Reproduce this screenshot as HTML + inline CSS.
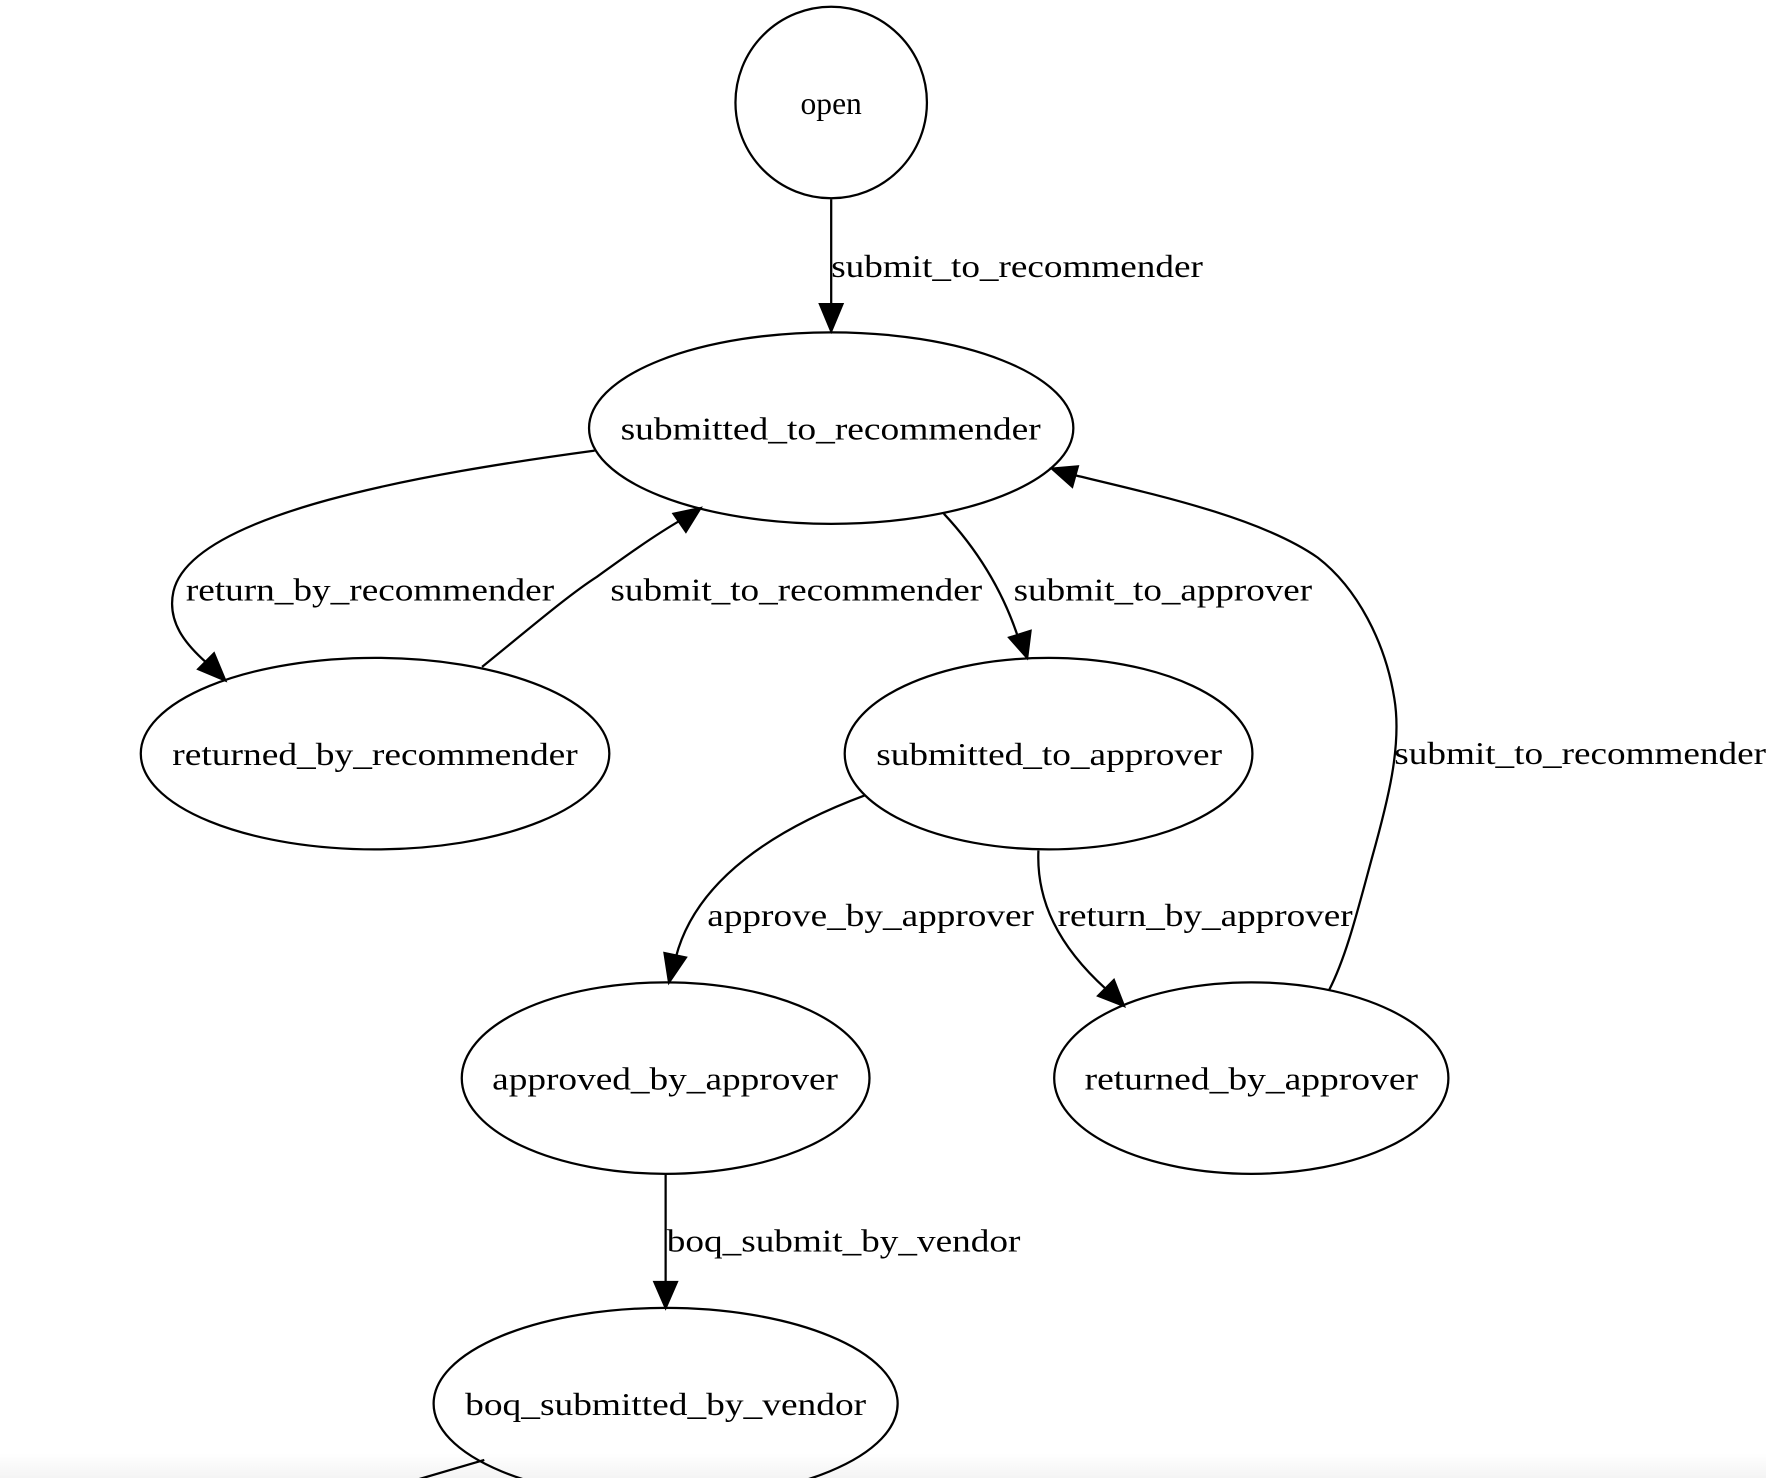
<!DOCTYPE html>
<html><head><meta charset="utf-8"><style>
html,body{margin:0;padding:0;background:#fff;width:1766px;height:1478px;overflow:hidden}
svg{display:block}
text{font-family:"Liberation Serif",serif;font-size:28px;fill:#000}
</style></head><body>
<svg width="1766" height="1478" viewBox="0 0 1568 1312" preserveAspectRatio="none" xmlns="http://www.w3.org/2000/svg">
<defs>
<linearGradient id="g" x1="0" y1="0" x2="0" y2="1"><stop offset="0" stop-color="#fff"/><stop offset="1" stop-color="#f4f4f4"/></linearGradient>
</defs>
<rect x="0" y="1290" width="1568" height="22" fill="url(#g)"/>
<g fill="none" stroke="#000" stroke-width="2">
<circle cx="738" cy="91" r="85"/>
<ellipse cx="738" cy="380" rx="215" ry="85"/>
<ellipse cx="333" cy="669" rx="208" ry="85"/>
<ellipse cx="931" cy="669" rx="181" ry="85"/>
<ellipse cx="591" cy="957" rx="181" ry="85"/>
<ellipse cx="1111" cy="957" rx="175" ry="85"/>
<ellipse cx="591" cy="1246" rx="206" ry="85"/>
<path d="M738,177 L738,272"/>
<path d="M528,400 C380,420 170,455 154,525 C148,552 165,572 183,588"/>
<path d="M428,592 C470,558 505,528 530,512 C555,494 580,476 604,462"/>
<path d="M838,456 C868,488 890,525 903,563"/>
<path d="M1180,879 C1195,850 1205,810 1218,762 C1232,712 1245,662 1238,620 C1230,570 1205,522 1170,495 C1120,460 1030,440 955,422"/>
<path d="M768,706 C690,735 618,780 600,850"/>
<path d="M922,755 C920,800 940,840 982,878"/>
<path d="M591,1043 L591,1140"/>
<path d="M430,1296 L372,1313"/>
</g>
<g fill="#000" stroke="#000" stroke-width="2">
<polygon points="738,294 728,270 748,270"/>
<polygon points="200,604 176,594 190,580"/>
<polygon points="622,451 598,456 609,472"/>
<polygon points="912,584 896,566 915,560"/>
<polygon points="934,416 957,414 952,432"/>
<polygon points="594,872 590,846 609,850"/>
<polygon points="998,893 975,884 989,870"/>
<polygon points="591,1161 581,1138 601,1138"/>
</g>
<g>
<text x="738" y="101" text-anchor="middle">open</text>
<text x="551" y="390" textLength="373" lengthAdjust="spacingAndGlyphs">submitted_to_recommender</text>
<text x="153" y="679" textLength="360" lengthAdjust="spacingAndGlyphs">returned_by_recommender</text>
<text x="778" y="679" textLength="307" lengthAdjust="spacingAndGlyphs">submitted_to_approver</text>
<text x="437" y="967" textLength="307" lengthAdjust="spacingAndGlyphs">approved_by_approver</text>
<text x="963" y="967" textLength="296" lengthAdjust="spacingAndGlyphs">returned_by_approver</text>
<text x="413" y="1256" textLength="356" lengthAdjust="spacingAndGlyphs">boq_submitted_by_vendor</text>
<text x="738" y="246" textLength="330" lengthAdjust="spacingAndGlyphs">submit_to_recommender</text>
<text x="165" y="533" textLength="327" lengthAdjust="spacingAndGlyphs">return_by_recommender</text>
<text x="542" y="533" textLength="330" lengthAdjust="spacingAndGlyphs">submit_to_recommender</text>
<text x="900" y="533" textLength="265" lengthAdjust="spacingAndGlyphs">submit_to_approver</text>
<text x="1238" y="678" textLength="330" lengthAdjust="spacingAndGlyphs">submit_to_recommender</text>
<text x="628" y="822" textLength="290" lengthAdjust="spacingAndGlyphs">approve_by_approver</text>
<text x="939" y="822" textLength="262" lengthAdjust="spacingAndGlyphs">return_by_approver</text>
<text x="592" y="1111" textLength="314" lengthAdjust="spacingAndGlyphs">boq_submit_by_vendor</text>
</g>
</svg>
</body></html>
